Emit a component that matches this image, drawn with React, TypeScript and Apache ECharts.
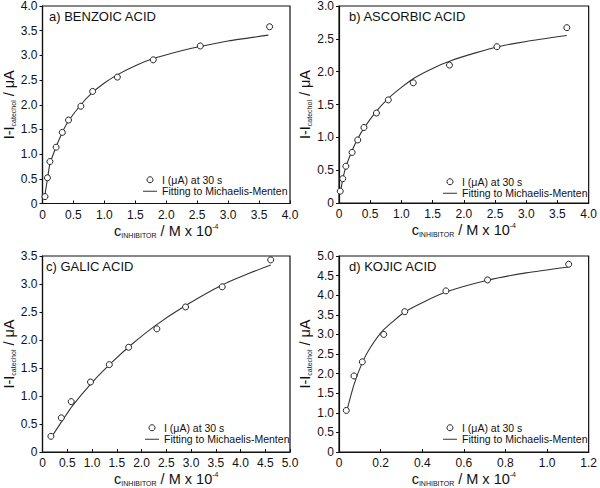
import React, { useEffect, useRef } from "react";
import * as echarts from "echarts";

const FONT = '"Liberation Sans", Arial, Helvetica, sans-serif';

const panelTitles = ["a) BENZOIC ACID", "b) ASCORBIC ACID", "c) GALIC ACID", "d) KOJIC ACID"];
const pointsName = "I (μA) at 30 s";
const fitName = "Fitting to Michaelis-Menten";

// a) benzoic acid
const benzoicX = [0.04, 0.08, 0.12, 0.22, 0.32, 0.42, 0.62, 0.81, 1.21, 1.79, 2.55, 3.67];
const benzoicY = [0.14, 0.52, 0.85, 1.14, 1.44, 1.69, 1.97, 2.27, 2.56, 2.91, 3.19, 3.58];
const benzoicFitX = [0.03, 0.08, 0.12, 0.22, 0.32, 0.42, 0.62, 0.8, 1.0, 1.2, 1.5, 1.8, 2.2, 2.55, 3.0, 3.65];
const benzoicFitY = [0.1, 0.5, 0.8, 1.15, 1.44, 1.67, 2.0, 2.24, 2.44, 2.6, 2.79, 2.94, 3.08, 3.18, 3.29, 3.41];

// b) ascorbic acid
const ascorbicX = [0.02, 0.06, 0.11, 0.21, 0.3, 0.4, 0.6, 0.79, 1.19, 1.77, 2.53, 3.65];
const ascorbicY = [0.18, 0.37, 0.56, 0.77, 0.96, 1.15, 1.37, 1.57, 1.83, 2.1, 2.38, 2.67];
const ascorbicFitX = [0.02, 0.06, 0.11, 0.21, 0.3, 0.4, 0.6, 0.8, 1.0, 1.2, 1.5, 1.8, 2.2, 2.55, 3.0, 3.65];
const ascorbicFitY = [0.15, 0.36, 0.55, 0.8, 0.98, 1.14, 1.4, 1.6, 1.76, 1.9, 2.05, 2.17, 2.29, 2.38, 2.46, 2.55];

// c) galic acid
const galicX = [0.17, 0.38, 0.58, 0.97, 1.35, 1.74, 2.31, 2.89, 3.63, 4.61];
const galicY = [0.28, 0.61, 0.9, 1.25, 1.56, 1.87, 2.2, 2.59, 2.95, 3.43];
const galicFitX = [0.17, 0.4, 0.6, 1.0, 1.4, 1.8, 2.3, 2.9, 3.6, 4.2, 4.61];
const galicFitY = [0.25, 0.56, 0.82, 1.24, 1.6, 1.92, 2.27, 2.62, 2.97, 3.2, 3.34];

// d) kojic acid
const kojicX = [0.035, 0.072, 0.112, 0.215, 0.316, 0.514, 0.714, 1.104];
const kojicY = [1.06, 1.94, 2.3, 3.0, 3.58, 4.11, 4.39, 4.79];
const kojicFitX = [0.035, 0.072, 0.112, 0.15, 0.215, 0.316, 0.4, 0.514, 0.714, 0.9, 1.104];
const kojicFitY = [1.0, 1.72, 2.28, 2.66, 3.12, 3.57, 3.81, 4.08, 4.38, 4.57, 4.72];

const xMax = [4, 4, 5, 1.2];
const xInterval = [0.5, 0.5, 0.5, 0.2];
const yMax = [4, 3, 3.5, 5];
const yInterval = [0.5, 0.5, 0.5, 0.5];

const pointsX = [benzoicX, ascorbicX, galicX, kojicX];
const pointsY = [benzoicY, ascorbicY, galicY, kojicY];
const fitX = [benzoicFitX, ascorbicFitX, galicFitX, kojicFitX];
const fitY = [benzoicFitY, ascorbicFitY, galicFitY, kojicFitY];

const grids = [
  { left: 40, top: 6, width: 250, height: 197.5 },
  { left: 339, top: 5.5, width: 250, height: 197.5 },
  { left: 40, top: 256, width: 250, height: 197.5 },
  { left: 339, top: 256, width: 250, height: 197.5 },
];
const titlePos = [
  { left: 49, top: 10 },
  { left: 349, top: 10 },
  { left: 46, top: 260 },
  { left: 349, top: 260 },
];
const legendPos = [
  { left: 143, top: 174 },
  { left: 443, top: 176 },
  { left: 145, top: 422 },
  { left: 443, top: 422 },
];

const zip = (xs: number[], ys: number[]) => xs.map((x, i) => [x, ys[i]]);
const fmt = (v: number) => (v === 0 ? "0" : v.toFixed(1));

export default function App() {
  const ref = useRef<HTMLDivElement>(null);
  useEffect(() => {
    if (!ref.current) return;
    const chart = echarts.init(ref.current, null, { renderer: "svg" });
    const nameRich = {
      m: { fontSize: 14.5, fontFamily: FONT, color: "#111", lineHeight: 16 },
      s: { fontSize: 7, fontFamily: FONT, color: "#111", lineHeight: 8, verticalAlign: "bottom" },
      p: { fontSize: 7, fontFamily: FONT, color: "#111", lineHeight: 8, verticalAlign: "top" },
    };
    const option: any = {
      animation: false,
      backgroundColor: "#fff",
      title: panelTitles.map((t, i) => ({
        text: t,
        left: titlePos[i].left,
        top: titlePos[i].top,
        padding: 0,
        textStyle: { fontFamily: FONT, fontSize: 13, fontWeight: "normal", color: "#111" },
      })),
      legend: legendPos.map((p) => ({
        left: p.left,
        top: p.top,
        orient: "vertical",
        padding: 0,
        itemWidth: 14,
        itemHeight: 6,
        itemGap: 0,
        selectedMode: false,
        textStyle: { fontFamily: FONT, fontSize: 10.5, color: "#111", lineHeight: 11.5 },
        data: [
          {
            name: pointsName,
            icon: "circle",
            itemStyle: { color: "#fff", borderColor: "#222", borderWidth: 1 },
          },
          {
            name: fitName,
            icon: "path://M0,0h14v1h-14z",
            itemStyle: { color: "#333", borderWidth: 0 },
          },
        ],
      })),
      grid: grids.map((g) => ({ ...g, show: true, borderColor: "#111", borderWidth: 1.2, backgroundColor: "transparent" })),
      xAxis: grids.map((_, i) => ({
        type: "value",
        gridIndex: i,
        min: 0,
        max: xMax[i],
        interval: xInterval[i],
        name: "{m|c}{s|INHIBITOR}{m| / M x 10}{p|-4}",
        nameLocation: "middle",
        nameGap: 19,
        nameTextStyle: { rich: nameRich },
        axisLine: { show: true, onZero: false, lineStyle: { color: "#111", width: 1.2 } },
        axisTick: { show: true, inside: true, length: 3, lineStyle: { color: "#111" } },
        axisLabel: { formatter: fmt, fontFamily: FONT, fontSize: 12, color: "#111", margin: 5 },
        splitLine: { show: false },
      })),
      yAxis: grids.map((_, i) => ({
        type: "value",
        gridIndex: i,
        min: 0,
        max: yMax[i],
        interval: yInterval[i],
        name: "{m|I-I}{s|catechol}{m| / μA}",
        nameLocation: "middle",
        nameGap: 26,
        nameTextStyle: { rich: nameRich },
        axisLine: { show: true, onZero: false, lineStyle: { color: "#111", width: 1.2 } },
        axisTick: { show: true, inside: false, length: 3, lineStyle: { color: "#111" } },
        axisLabel: { formatter: fmt, fontFamily: FONT, fontSize: 12, color: "#111", margin: 5 },
        splitLine: { show: false },
      })),
      series: [
        ...grids.map((_, i) => ({
          type: "line",
          name: fitName,
          xAxisIndex: i,
          yAxisIndex: i,
          data: zip(fitX[i], fitY[i]),
          smooth: 0.2,
          symbol: "none",
          showSymbol: false,
          color: "#333",
          lineStyle: { color: "#333", width: 1.1 },
          z: 2,
        })),
        ...grids.map((_, i) => ({
          type: "scatter",
          name: pointsName,
          xAxisIndex: i,
          yAxisIndex: i,
          data: zip(pointsX[i], pointsY[i]),
          symbol: "circle",
          symbolSize: 6,
          color: "#222",
          itemStyle: { color: "#fff", borderColor: "#222", borderWidth: 1, opacity: 1 },
          z: 3,
        })),
      ],
    };
    chart.setOption(option);
    return () => chart.dispose();
  }, []);
  return <div ref={ref} style={{ position: "absolute", left: 0, top: 0, width: 600, height: 488 }} />;
}
